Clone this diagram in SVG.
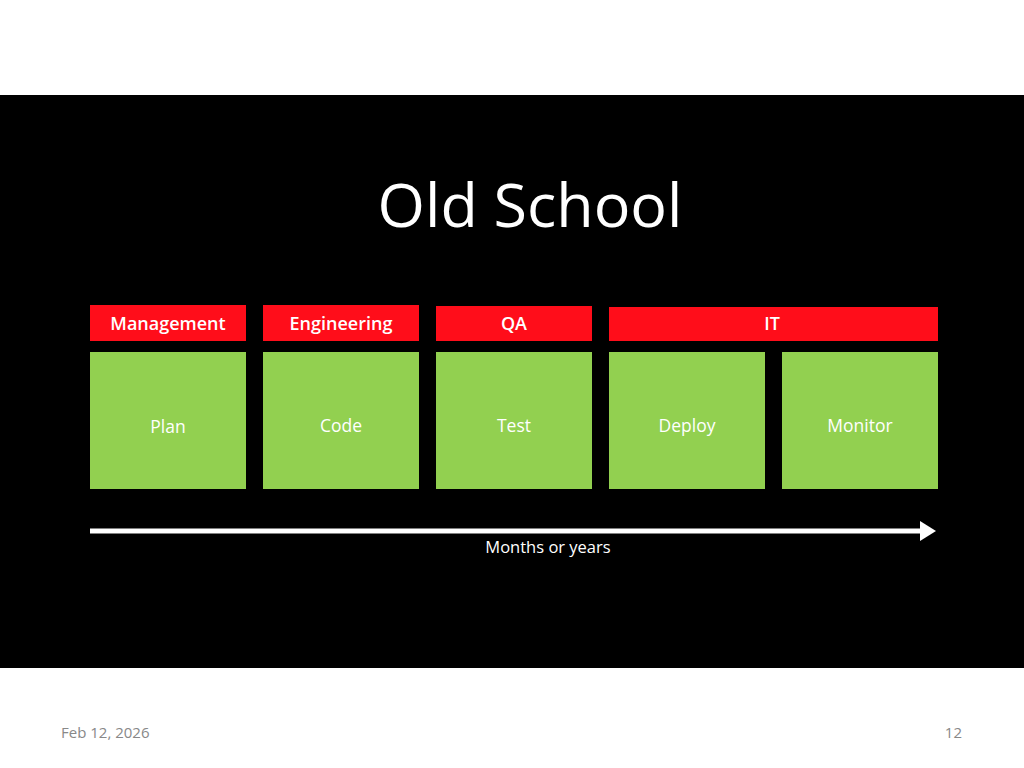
<svg xmlns="http://www.w3.org/2000/svg" width="1024" height="768" viewBox="0 0 1024 768">
<defs>
<style>
.hdr{fill:#FF0D1A}
.stage{fill:#92D050}
.ht{font-family:"Open Sans","Liberation Sans",sans-serif;font-size:18px;font-weight:600;fill:#fff;text-anchor:middle}
.st{font-family:"Open Sans","Liberation Sans",sans-serif;font-size:17.5px;fill:#fff;text-anchor:middle}
.ft{font-family:"Open Sans","Liberation Sans",sans-serif;font-size:15px;fill:#888}
</style>
<marker id="ah" markerWidth="4" markerHeight="4" refX="0" refY="2" orient="auto" markerUnits="strokeWidth"><path d="M0,0 L3.2,2 L0,4 Z" fill="#fff"/></marker>
</defs>
<rect width="1024" height="768" fill="#fff"/>
<rect x="0" y="95" width="1024" height="573" fill="#000"/>
<text x="530" y="227" font-family="Open Sans, Liberation Sans, sans-serif" font-size="61" fill="#fff" text-anchor="middle">Old School</text>
<g id="management"><rect class="hdr" x="90" y="305" width="156" height="36"/><text class="ht" x="168" y="330">Management</text></g>
<g id="engineering"><rect class="hdr" x="263" y="305" width="156" height="36"/><text class="ht" x="341" y="330">Engineering</text></g>
<g id="qa"><rect class="hdr" x="436" y="306" width="156" height="35"/><text class="ht" x="514" y="330">QA</text></g>
<g id="it"><rect class="hdr" x="609" y="307" width="329" height="34"/><text class="ht" x="772" y="330">IT</text></g>
<g id="plan"><rect class="stage" x="90" y="352" width="156" height="137"/><text class="st" x="168" y="433">Plan</text></g>
<g id="code"><rect class="stage" x="263" y="352" width="156" height="137"/><text class="st" x="341" y="432">Code</text></g>
<g id="test"><rect class="stage" x="436" y="352" width="156" height="137"/><text class="st" x="514" y="432">Test</text></g>
<g id="deploy"><rect class="stage" x="609" y="352" width="156" height="137"/><text class="st" x="687" y="432">Deploy</text></g>
<g id="monitor"><rect class="stage" x="782" y="352" width="156" height="137"/><text class="st" x="860" y="432">Monitor</text></g>
<g id="connectors">
<line x1="90" y1="531" x2="920" y2="531" stroke="#fff" stroke-width="5" marker-end="url(#ah)"/>
</g>
<text x="548" y="553" font-family="Open Sans, Liberation Sans, sans-serif" font-size="16.5" fill="#fff" text-anchor="middle">Months or years</text>
<text class="ft" x="61" y="738">Feb 12, 2026</text>
<text class="ft" x="962" y="738" text-anchor="end">12</text>
</svg>
